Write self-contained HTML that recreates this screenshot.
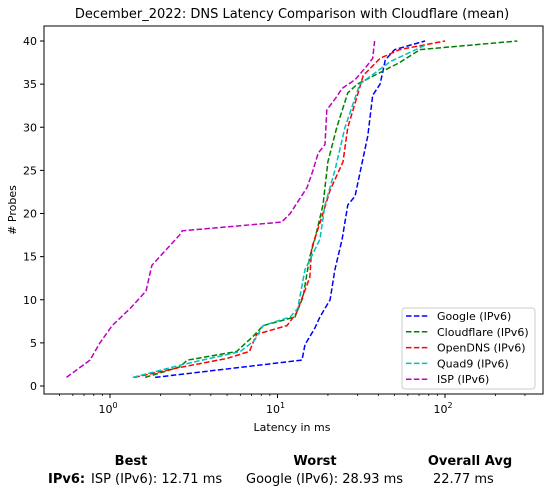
<!DOCTYPE html>
<html><head><meta charset="utf-8"><style>
body{margin:0;background:#fff;font-family:"Liberation Sans","DejaVu Sans",sans-serif;}
svg text{font-family:"DejaVu Sans","Liberation Sans",sans-serif;}
</style></head><body>
<svg id="chart" width="548" height="496" viewBox="0 0 548 496" xmlns="http://www.w3.org/2000/svg">
<rect x="0" y="0" width="548" height="496" fill="#fff"/>
<text x="292" y="18" font-size="13" text-anchor="middle">December_2022: DNS Latency Comparison with Cloudflare (mean)</text>
<g id="plot"></g>
<rect x="44" y="26" width="499" height="368" fill="none" stroke="#000" stroke-width="1"/>
<text x="292" y="431" font-size="11" text-anchor="middle">Latency in ms</text>
<text x="16" y="210" font-size="11" text-anchor="middle" transform="rotate(-90 16 210)"># Probes</text>
<g id="legend"></g>
<g font-size="13">
<text x="131" y="465" font-weight="bold" text-anchor="middle">Best</text>
<text x="315" y="465" font-weight="bold" text-anchor="middle">Worst</text>
<text x="470" y="465" font-weight="bold" text-anchor="middle">Overall Avg</text>
<text x="48" y="483" font-weight="bold">IPv6:</text>
<text x="91" y="483">ISP (IPv6): 12.71 ms</text>
<text x="246" y="483">Google (IPv6): 28.93 ms</text>
<text x="433" y="483">22.77 ms</text>
</g>
</svg>
<script>
const seriesNames=["Google (IPv6)","Cloudflare (IPv6)","OpenDNS (IPv6)","Quad9 (IPv6)","ISP (IPv6)"];
const seriesColors=["#0000ff","#008000","#ff0000","#00bfbf","#bf00bf"];
const googleLat=[1.86,14,14.6,16.7,17.9,20.6,22,24.3,26.3,29,34.6,37,41,44,50,76];
const googleProbes=[1,3,4.8,6.7,8,10,13.5,17,21,22,29,33.7,35,37.8,39,40];
const cloudflareLat=[1.62,2.6,2.9,5.7,7.1,8.2,12.7,14.2,15.6,16.7,18.7,20,22.6,26.3,30,53.5,71,270];
const cloudflareProbes=[1,2.2,3,4,5.7,7,8,10.3,15,17,21,26,30,34,35,37.5,39,40];
const opendnsLat=[1.4,2.38,5,6.8,7.5,11.4,13,15.6,16,18.4,20.6,24.6,26.3,29.8,32.5,41,53.6,100];
const opendnsProbes=[1,2,3.2,4,6,7,8.5,12.6,16,19.6,22.7,26,30,33.5,36,38,39,40];
const quad9Lat=[1.37,2.6,6,7.3,8.2,11.9,13.2,14.6,17.9,19.2,22,25.3,31,47,76];
const quad9Probes=[1,2.4,4,5.3,7,8,9,13.5,17,21,25,30,35,37.6,39.5];
const ispLat=[0.55,0.76,0.87,1.03,1.32,1.64,1.78,2.6,2.7,10.6,11.9,15,16.3,17.5,19.2,19.7,22.3,24.3,29,33.8,37,38];
const ispProbes=[1,3,5,7,9,11,14,17.5,18,19,20,23,25,27,28,32,33.4,34.5,35.5,37,38,40];
const yTicks=[0,5,10,15,20,25,30,35,40];
const xMajor=[1,10,100];
const xMajorLabels=["0","1","2"];

const NS="http://www.w3.org/2000/svg";
const X0=110,DEC=167.5,Y0=386,YU=8.625;
function xs(v){return X0+Math.log10(v)*DEC;}
function ys(v){return Y0-v*YU;}
const plot=document.getElementById('plot');
function mk(t,a,p){const e=document.createElementNS(NS,t);for(const k in a)e.setAttribute(k,a[k]);(p||plot).appendChild(e);return e;}

yTicks.forEach(v=>{
  const t=mk('line',{x1:44,x2:40,y1:ys(v),y2:ys(v),stroke:'#000'});
  
  
  const l=mk('text',{x:37,y:ys(v)+4,'font-size':11,'text-anchor':'end'});
  
  
  l.textContent=v;
});
xMajor.forEach((v,i)=>{
  const t=mk('line',{x1:xs(v),x2:xs(v),y1:394,y2:398,stroke:'#000'});
  
  
  const l=mk('text',{x:xs(v)-2,y:413,'font-size':11,'text-anchor':'middle'});
  
  
  l.textContent='10';
  const s=document.createElementNS(NS,'tspan');
  s.setAttribute('dy','-5');s.setAttribute('font-size','8');
  s.textContent=xMajorLabels[i];l.appendChild(s);
});
for(let d=-1;d<=2;d++)for(let m=2;m<=9;m++){
  const v=m*Math.pow(10,d);const x=xs(v);
  if(x<44||x>543)continue;
  const t=mk('line',{x1:x,x2:x,y1:394,y2:396,stroke:'#000','stroke-width':0.8});
  
  
}
const allLat=[googleLat,cloudflareLat,opendnsLat,quad9Lat,ispLat];
const allProbes=[googleProbes,cloudflareProbes,opendnsProbes,quad9Probes,ispProbes];
const lineNames=['google-line','cloudflare-line','opendns-line','quad9-line','isp-line'];
allLat.forEach((arr,i)=>{
  const pts=arr.map((v,j)=>xs(v).toFixed(1)+','+ys(allProbes[i][j]).toFixed(1)).join(' ');
  const p=mk('polyline',{points:pts,fill:'none',stroke:seriesColors[i],'stroke-width':1.5,'stroke-dasharray':'5.5,2.4'});
  
  
});
const lg=document.getElementById('legend');
const box=mk('rect',{x:402,y:308,width:133,height:81,rx:3,fill:'#fff',stroke:'#ccc'},lg);


seriesNames.forEach((n,i)=>{
  const y=316+i*15.8;
  const l=mk('line',{x1:406,x2:428,y1:y,y2:y,stroke:seriesColors[i],'stroke-width':1.5,'stroke-dasharray':'5.5,2.4'},lg);
  
  
  const t=mk('text',{x:437,y:y+4,'font-size':11},lg);
  
  
  t.textContent=n;
});
</script>
</body></html>
